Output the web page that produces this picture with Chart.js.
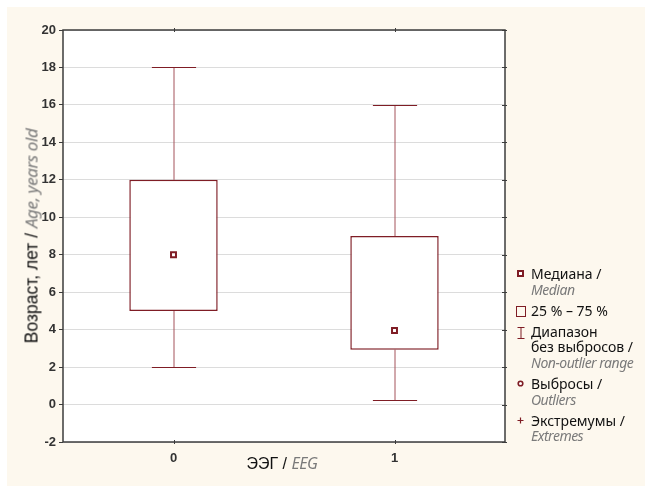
<!DOCTYPE html>
<html>
<head>
<meta charset="utf-8">
<script src="https://cdn.jsdelivr.net/npm/chart.js@4.4.1/dist/chart.umd.min.js"></script>
<style>
html, body { margin: 0; padding: 0; background: #fff; }
#wrap { position: relative; width: 645px; height: 486px; overflow: hidden; }
#bg { position: absolute; left: 7px; top: 7px; right: 0; bottom: 0; background: #fdf8ee; }
#myChart { position: absolute; left: 0; top: 0; }
.ru { font-family: "Liberation Sans", Arial, sans-serif; color: #111; }
.en { font-family: "Noto Sans", sans-serif; font-style: italic; color: #7a7a7a; letter-spacing: -0.4px; }
#ytitle { position: absolute; left: 31px; top: 236px; transform: translate(-50%, -50%) rotate(-90deg);
          white-space: nowrap; font-size: 17.5px; }
#ytitle .en { font-size: 17px; }
#xtitle { position: absolute; left: 282px; top: 463px; transform: translate(-50%, -50%);
          white-space: nowrap; font-size: 16px; }
#legend { position: absolute; left: 516px; top: 266px; font-family: "Noto Sans", sans-serif;
          font-size: 14px; line-height: 15.6px; color: #111; }
#legend .item { position: relative; padding-left: 15px; margin-bottom: 5.5px; }
#legend .item svg { position: absolute; left: 0; top: 3px; }
#legend .en { font-family: "Noto Sans", sans-serif; letter-spacing: -0.5px; }
</style>
</head>
<body>
<div id="wrap">
  <div id="bg"></div>
  <canvas id="myChart" width="645" height="486"></canvas>
  <div id="ytitle"><span class="ru">Возраст, лет / </span><span class="en">Age, years old</span></div>
  <div id="xtitle"><span class="ru">ЭЭГ / </span><span class="en">EEG</span></div>
  <div id="legend">
    <div class="item">
      <svg width="10" height="10"><rect x="2" y="2" width="5" height="5" fill="#fff" stroke="#7f1d25" stroke-width="2"/></svg>
      <div>Медиана /</div><div class="en">Median</div>
    </div>
    <div class="item">
      <svg width="12" height="12"><rect x="0.5" y="0.5" width="9" height="10" fill="none" stroke="#7f1d25" stroke-width="1"/></svg>
      <div>25 % – 75 %</div>
    </div>
    <div class="item">
      <svg width="12" height="12"><path d="M1.5 0.5 H8.5 M5 0.5 V11.5 M1.5 11.5 H8.5" fill="none" stroke="#7f1d25" stroke-width="1"/></svg>
      <div>Диапазон</div><div>без выбросов /</div><div class="en">Non-outlier range</div>
    </div>
    <div class="item">
      <svg width="10" height="10"><circle cx="4.5" cy="4.5" r="2.3" fill="#fff" stroke="#7f1d25" stroke-width="1.6"/></svg>
      <div>Выбросы /</div><div class="en">Outliers</div>
    </div>
    <div class="item">
      <svg width="10" height="10"><path d="M4.5 1.5 V7.5 M1.5 4.5 H7.5" stroke="#7f1d25" stroke-width="1.2"/></svg>
      <div>Экстремумы /</div><div class="en">Extremes</div>
    </div>
  </div>
</div>
<script>
/*** BOX PLOT: age by EEG group ***/
/* Data */
const groups = ['0', '1'];
const lowWhisker = [2, 0.25];
const q1 = [5, 2.93];
const medians = [8, 3.95];
const q3 = [12, 9];
const highWhisker = [18, 16];
const yMin = -2, yMax = 20, yStep = 2;

const boxColor = '#7f1d25';
const stemColor = '#a4525a';
const axisColor = '#3c3c3c';

/* whiskers, plot background and frame */
const boxPlot = {
    id: 'boxPlot',
    beforeDraw(chart) {
        const a = chart.chartArea, c = chart.ctx;
        c.save();
        c.fillStyle = '#fff';
        c.fillRect(a.left, a.top, a.right - a.left, a.bottom - a.top);
        c.restore();
    },
    beforeDatasetsDraw(chart) {
        const x = chart.scales.x, y = chart.scales.y, c = chart.ctx;
        const cap = (x.getPixelForValue(1) - x.getPixelForValue(0)) * 0.2;
        c.save();
        c.lineWidth = 1;
        groups.forEach((g, i) => {
            const px = Math.round(x.getPixelForValue(i));
            [[lowWhisker[i], q1[i]], [highWhisker[i], q3[i]]].forEach(([end, edge]) => {
                const ye = Math.round(y.getPixelForValue(end)) + 0.5;
                // stem (soft, like the original) then crisp cap
                c.strokeStyle = stemColor;
                c.beginPath();
                c.moveTo(px, ye);
                c.lineTo(px, y.getPixelForValue(edge));
                c.stroke();
                c.strokeStyle = boxColor;
                c.beginPath();
                c.moveTo(px - cap / 2, ye);
                c.lineTo(px + cap / 2, ye);
                c.stroke();
            });
        });
        c.restore();
    },
    afterDraw(chart) {
        const a = chart.chartArea, c = chart.ctx, x = chart.scales.x, y = chart.scales.y;
        c.save();
        c.strokeStyle = axisColor;
        c.lineWidth = 1.5;
        c.strokeRect(a.left, a.top, a.right - a.left, a.bottom - a.top);
        c.lineWidth = 1;
        c.beginPath();
        groups.forEach((g, i) => {
            const px = Math.round(x.getPixelForValue(i)) + 0.5;
            c.moveTo(px, a.top - 2); c.lineTo(px, a.top + 2);
            c.moveTo(px, a.bottom - 2); c.lineTo(px, a.bottom + 2);
        });
        y.ticks.forEach(t => {
            const py = Math.round(y.getPixelForValue(t.value)) + 0.5;
            c.moveTo(a.right - 3, py); c.lineTo(a.right + 2, py);
        });
        c.stroke();
        c.restore();
    }
};

new Chart(document.getElementById('myChart'), {
    data: {
        labels: groups,
        datasets: [{
            type: 'line',
            label: 'Медиана',
            data: medians,
            showLine: false,
            pointStyle: 'rect',
            pointRadius: 3.5,
            pointBorderWidth: 2,
            pointBackgroundColor: '#fff',
            pointBorderColor: boxColor,
            order: 1
        }, {
            type: 'bar',
            label: '25 % – 75 %',
            data: groups.map((g, i) => [q1[i], q3[i]]),
            backgroundColor: '#fff',
            borderColor: boxColor,
            borderWidth: 1.5,
            borderSkipped: false,
            barPercentage: 0.4,
            categoryPercentage: 1,
            order: 2
        }]
    },
    options: {
        responsive: false,
        animation: false,
        layout: { padding: { left: 0, top: 30, right: 140, bottom: 0 } },
        plugins: { legend: { display: false }, tooltip: { enabled: false } },
        scales: {
            x: {
                type: 'category',
                grid: { display: false, drawTicks: false },
                border: { display: false },
                ticks: { padding: 9, color: '#333', font: { family: 'Liberation Sans', size: 13, weight: 'bold' } },
                afterFit: s => { s.height = 44; }
            },
            y: {
                min: yMin,
                max: yMax,
                ticks: { stepSize: yStep, padding: 3, color: '#333', font: { family: 'Liberation Sans', size: 13, weight: 'bold' } },
                grid: { color: '#dcdcdc', tickColor: axisColor, tickLength: 4 },
                border: { display: false },
                afterFit: s => { s.width = 63; }
            }
        }
    },
    plugins: [boxPlot]
});
/*** BOX PLOT END ***/
</script>
</body>
</html>
